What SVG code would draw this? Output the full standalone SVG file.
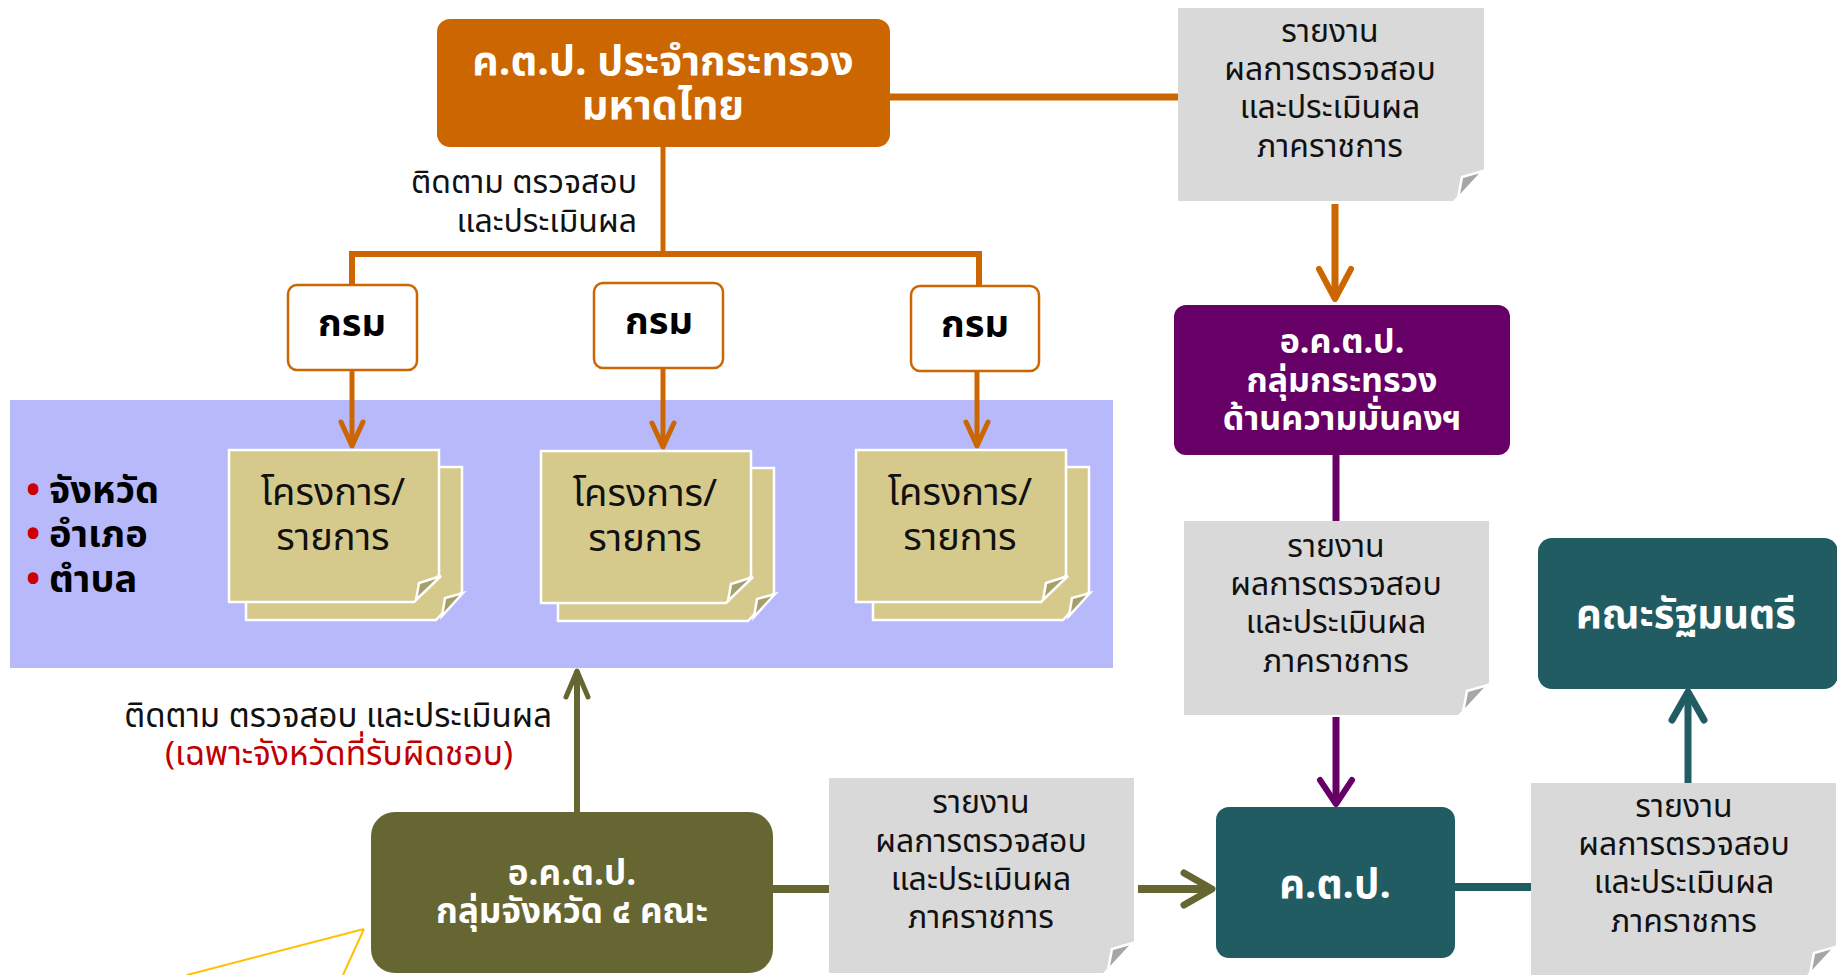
<svg xmlns="http://www.w3.org/2000/svg" xmlns:xlink="http://www.w3.org/1999/xlink" width="1837" height="975" viewBox="0 0 1837 975">
<style>
text{font-family:"Noto Sans Thai","Noto Sans","Liberation Sans",sans-serif;}
.wt{fill:#fff;font-weight:bold;text-anchor:middle}
.gt{fill:#111;text-anchor:middle;font-size:32px}
.lbl{fill:#111}
.red{fill:#C00000;font-size:33.5px;text-anchor:middle}
.bt{fill:#000;font-size:38px;font-weight:bold}
.bul{fill:#CC0000}
.dt{fill:#111;font-size:38px;text-anchor:middle}
.gr{fill:#000;font-size:38px;font-weight:bold;text-anchor:middle}
.gray{fill:#D9D9D9}
.fold{fill:#A6A6A6;stroke:#fff;stroke-width:2.5;stroke-linejoin:miter}
.sheet{fill:#D5CA8C;stroke:#fff;stroke-width:2.5}
.sfold{fill:#A59F6C;stroke:#fff;stroke-width:2.5}
.grom{fill:#fff;stroke:#CC6600;stroke-width:2.5}
.ln{fill:none;stroke-linecap:butt}
</style>
<defs>
<marker id="aO" markerUnits="userSpaceOnUse" viewBox="-40 -24 48 48" refX="0" refY="0" markerWidth="48" markerHeight="48" orient="auto"><path d="M-30,-16 L0,0 L-30,16" fill="none" stroke="#CC6600" stroke-width="6" stroke-linecap="round" stroke-linejoin="round"/></marker>
<marker id="aOs" markerUnits="userSpaceOnUse" viewBox="-40 -24 48 48" refX="0" refY="0" markerWidth="48" markerHeight="48" orient="auto"><path d="M-24,-11 L0,0 L-24,11" fill="none" stroke="#CC6600" stroke-width="5" stroke-linecap="round" stroke-linejoin="round"/></marker>
<marker id="aP" markerUnits="userSpaceOnUse" viewBox="-40 -24 48 48" refX="0" refY="0" markerWidth="48" markerHeight="48" orient="auto"><path d="M-24,-16 L0,0 L-24,16" fill="none" stroke="#660066" stroke-width="6" stroke-linecap="round" stroke-linejoin="round"/></marker>
<marker id="aV" markerUnits="userSpaceOnUse" viewBox="-40 -24 48 48" refX="0" refY="0" markerWidth="48" markerHeight="48" orient="auto"><path d="M-26,-11 L0,0 L-26,11" fill="none" stroke="#666633" stroke-width="5" stroke-linecap="round" stroke-linejoin="round"/></marker>
<marker id="aVb" markerUnits="userSpaceOnUse" viewBox="-40 -24 48 48" refX="0" refY="0" markerWidth="48" markerHeight="48" orient="auto"><path d="M-28,-16 L0,0 L-28,16" fill="none" stroke="#666633" stroke-width="7" stroke-linecap="round" stroke-linejoin="round"/></marker>
<marker id="aT" markerUnits="userSpaceOnUse" viewBox="-40 -24 48 48" refX="0" refY="0" markerWidth="48" markerHeight="48" orient="auto"><path d="M-28,-16 L0,0 L-28,16" fill="none" stroke="#215C62" stroke-width="7" stroke-linecap="round" stroke-linejoin="round"/></marker>
<g id="doc">
<path class="sheet" d="M17,17 H233 V142 L207,170 H17 Z"/>
<path class="sfold" d="M234,143 L213,166 L216,148 Z"/>
<path class="sheet" d="M0,0 H210 V125 L185,152 H0 Z"/>
<path class="sfold" d="M212,126 L187,150 L190,133 Z"/>
</g>
<g id="gfold">
<path class="fold" d="M30,0 L5,27 L9,6 Z"/>
</g>
</defs>

<rect id="band" x="10" y="400" width="1103" height="268" fill="#B7B9FB"/>

<g id="connectors">
<path class="ln" d="M890,97 H1178" stroke="#CC6600" stroke-width="7"/>
<path class="ln" d="M663,147 V254" stroke="#CC6600" stroke-width="5"/>
<path class="ln" d="M352,285 V254 H979 V286" stroke="#CC6600" stroke-width="6"/>
<path class="ln" d="M352,370 V446" stroke="#CC6600" stroke-width="5" marker-end="url(#aOs)"/>
<path class="ln" d="M663,368 V447" stroke="#CC6600" stroke-width="5" marker-end="url(#aOs)"/>
<path class="ln" d="M977,371 V446" stroke="#CC6600" stroke-width="5" marker-end="url(#aOs)"/>
<path class="ln" d="M1335,204 V299" stroke="#CC6600" stroke-width="7" marker-end="url(#aO)"/>
<path class="ln" d="M1336,455 V521" stroke="#660066" stroke-width="7"/>
<path class="ln" d="M1336,717 V804" stroke="#660066" stroke-width="7" marker-end="url(#aP)"/>
<path class="ln" d="M577,812 V671" stroke="#666633" stroke-width="6" marker-end="url(#aV)"/>
<path class="ln" d="M773,889 H829" stroke="#666633" stroke-width="8"/>
<path class="ln" d="M1138,889 H1212" stroke="#666633" stroke-width="8" marker-end="url(#aVb)"/>
<path class="ln" d="M1455,887 H1531" stroke="#215C62" stroke-width="8"/>
<path class="ln" d="M1688,783 V692" stroke="#215C62" stroke-width="7" marker-end="url(#aT)"/>
<path d="M364,929 L187,975 M364,929 L343,975" fill="none" stroke="#FFC000" stroke-width="2"/>
</g>

<g id="n-mot">
<rect x="437" y="19" width="453" height="128" rx="13" fill="#CC6600"/>
<text class="wt" x="663" y="75" style="font-size:41px">ค.ต.ป. ประจำกระทรวง</text>
<text class="wt" x="663" y="119" style="font-size:41px">มหาดไทย</text>
</g>

<g id="lbl-top">
<text class="lbl" x="637" y="193" text-anchor="end" style="font-size:32px">ติดตาม ตรวจสอบ</text>
<text class="lbl" x="637" y="232" text-anchor="end" style="font-size:32px">และประเมินผล</text>
</g>

<g id="n-grom1">
<rect class="grom" x="288" y="285" width="129" height="85" rx="9"/>
<text class="gr" x="352" y="336">กรม</text>
</g>
<g id="n-grom2">
<rect class="grom" x="594" y="283" width="129" height="85" rx="9"/>
<text class="gr" x="659" y="334">กรม</text>
</g>
<g id="n-grom3">
<rect class="grom" x="911" y="286" width="128" height="85" rx="9"/>
<text class="gr" x="975" y="337">กรม</text>
</g>

<g id="n-area">
<text class="bt" x="26" y="503"><tspan class="bul">•</tspan><tspan x="49">จังหวัด</tspan></text>
<text class="bt" x="26" y="547"><tspan class="bul">•</tspan><tspan x="49">อำเภอ</tspan></text>
<text class="bt" x="26" y="592"><tspan class="bul">•</tspan><tspan x="49">ตำบล</tspan></text>
</g>

<g id="n-doc1">
<use xlink:href="#doc" x="229" y="450"/>
<text class="dt" x="333" y="505">โครงการ/</text>
<text class="dt" x="333" y="550">รายการ</text>
</g>
<g id="n-doc2">
<use xlink:href="#doc" x="541" y="451"/>
<text class="dt" x="645" y="506">โครงการ/</text>
<text class="dt" x="645" y="551">รายการ</text>
</g>
<g id="n-doc3">
<use xlink:href="#doc" x="856" y="450"/>
<text class="dt" x="960" y="505">โครงการ/</text>
<text class="dt" x="960" y="550">รายการ</text>
</g>

<g id="n-rep1">
<path class="gray" d="M1178,8 H1484 V169 L1453,201 H1178 Z"/>
<use xlink:href="#gfold" x="1453" y="171"/>
<text class="gt" x="1330" y="42">รายงาน</text>
<text class="gt" x="1330" y="80">ผลการตรวจสอบ</text>
<text class="gt" x="1330" y="118">และประเมินผล</text>
<text class="gt" x="1330" y="157">ภาคราชการ</text>
</g>

<g id="n-sec">
<rect x="1174" y="305" width="336" height="150" rx="12" fill="#660066"/>
<text class="wt" x="1342" y="353" style="font-size:34px">อ.ค.ต.ป.</text>
<text class="wt" x="1342" y="392" style="font-size:34px">กลุ่มกระทรวง</text>
<text class="wt" x="1342" y="430" style="font-size:34px">ด้านความมั่นคงฯ</text>
</g>

<g id="n-rep2">
<path class="gray" d="M1184,521 H1489 V683 L1458,715 H1184 Z"/>
<use xlink:href="#gfold" x="1458" y="685"/>
<text class="gt" x="1336" y="557">รายงาน</text>
<text class="gt" x="1336" y="595">ผลการตรวจสอบ</text>
<text class="gt" x="1336" y="633">และประเมินผล</text>
<text class="gt" x="1336" y="672">ภาคราชการ</text>
</g>

<g id="n-cab">
<rect x="1538" y="538" width="300" height="151" rx="14" fill="#215C62"/>
<text class="wt" x="1686" y="628" style="font-size:40px">คณะรัฐมนตรี</text>
</g>

<g id="lbl-bottom">
<text class="lbl" x="552" y="727" text-anchor="end" style="font-size:33px">ติดตาม ตรวจสอบ และประเมินผล</text>
<text class="red" x="339" y="765">(เฉพาะจังหวัดที่รับผิดชอบ)</text>
</g>

<g id="n-prov">
<rect x="371" y="812" width="402" height="161" rx="24" fill="#666633"/>
<text class="wt" x="572" y="885" style="font-size:35px">อ.ค.ต.ป.</text>
<text class="wt" x="572" y="923" style="font-size:35px">กลุ่มจังหวัด ๔ คณะ</text>
</g>

<g id="n-rep3">
<path class="gray" d="M829,778 H1134 V941 L1103,973 H829 Z"/>
<use xlink:href="#gfold" x="1103" y="943"/>
<text class="gt" x="981" y="813">รายงาน</text>
<text class="gt" x="981" y="852">ผลการตรวจสอบ</text>
<text class="gt" x="981" y="890">และประเมินผล</text>
<text class="gt" x="981" y="928">ภาคราชการ</text>
</g>

<g id="n-ktp">
<rect x="1216" y="807" width="239" height="151" rx="13" fill="#215C62"/>
<text class="wt" x="1335" y="898" style="font-size:40px">ค.ต.ป.</text>
</g>

<g id="n-rep4">
<path class="gray" d="M1531,783 H1836 V945 L1805,977 H1531 Z"/>
<use xlink:href="#gfold" x="1805" y="947"/>
<text class="gt" x="1684" y="817">รายงาน</text>
<text class="gt" x="1684" y="855">ผลการตรวจสอบ</text>
<text class="gt" x="1684" y="893">และประเมินผล</text>
<text class="gt" x="1684" y="932">ภาคราชการ</text>
</g>
</svg>
